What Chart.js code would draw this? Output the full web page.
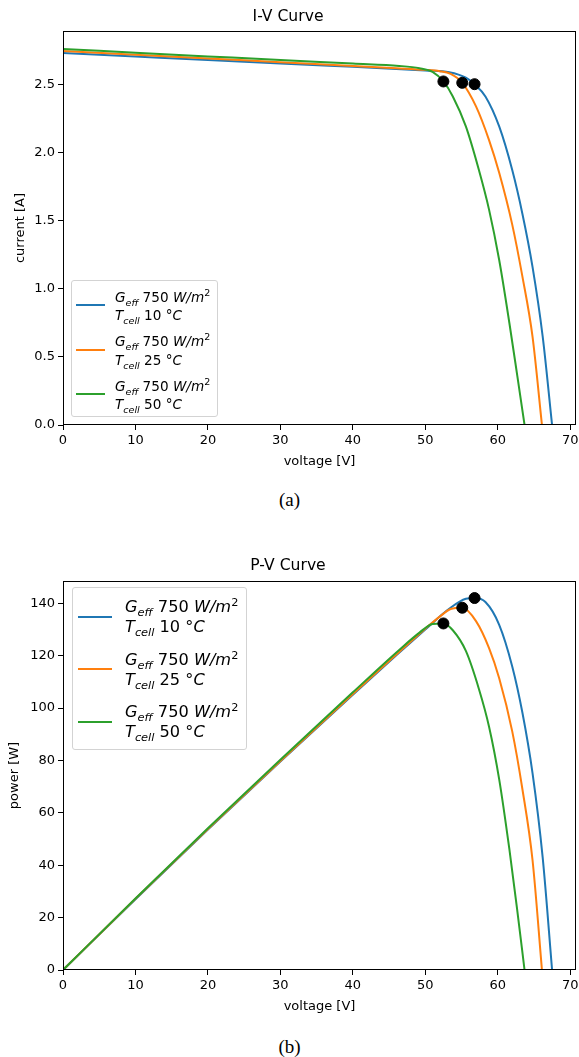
<!DOCTYPE html>
<html>
<head>
<meta charset="utf-8">
<title>I-V and P-V curves</title>
<script src="https://cdn.jsdelivr.net/npm/chart.js@4.4.1/dist/chart.umd.min.js"></script>
<style>
  body { margin: 0; background: #fff; width: 579px; height: 1057px; position: relative; overflow: hidden; }
  .panel { position: absolute; left: 0; }
  .caption { position: absolute; left: 0; width: 579px; text-align: center; line-height: 22px;
             font-family: 'Liberation Serif', 'DejaVu Serif', serif; font-size: 19px; color: #000; }
  .legend { position: absolute; box-sizing: border-box; background: rgba(255,255,255,0.8);
            border: 1px solid #d3d3d3; border-radius: 3px; font-family: 'DejaVu Sans', sans-serif; color: #000; }
  .legend .swatch { position: absolute; height: 2px; }
  .legend .txt { position: absolute; white-space: nowrap; }
  .legend sub, .legend sup { font-size: 70%; line-height: 0; }
</style>
</head>
<body>
<div class="panel" style="top:0"><canvas id="iv-chart" width="590" height="480"></canvas></div>
<div class="legend" id="iv-legend"></div>
<div class="caption" style="top:489px">(a)</div>

<div class="panel" style="top:550px"><canvas id="pv-chart" width="590" height="480"></canvas></div>
<div class="legend" id="pv-legend"></div>
<div class="caption" style="top:1036px">(b)</div>

<script>
// Module curves at 750 W/m2 for three cell temperatures

const irradiance = 750;
const cellTemps = [10, 25, 50];
const lineColors = ['#1f77b4', '#ff7f0e', '#2ca02c'];

// 10 °C
const voltage10 = [0, 10, 20, 30, 40, 46, 50, 53.3, 55.6, 56.8, 58.3, 60.2, 62.0, 63.4, 64.8, 66.2, 67.5];
const current10 = [2.728, 2.703, 2.678, 2.652, 2.627, 2.612, 2.600, 2.588, 2.548, 2.500, 2.41, 2.19, 1.87, 1.55, 1.16, 0.65, 0];
const power10 = [0, 27.0, 53.6, 79.6, 105.1, 120.2, 130.0, 137.9, 141.7, 142.0, 140.5, 131.8, 115.9, 98.3, 75.2, 43.0, 0];

// 25 °C
const voltage25 = [0, 10, 20, 30, 40, 46, 50, 52, 53.5, 55.1, 57.0, 58.8, 60.2, 62.0, 63.4, 64.8, 66.1];
const current25 = [2.743, 2.716, 2.689, 2.661, 2.634, 2.617, 2.605, 2.595, 2.575, 2.510, 2.337, 2.09, 1.85, 1.47, 1.09, 0.648, 0];
const power25 = [0, 27.2, 53.8, 79.8, 105.4, 120.4, 130.3, 134.9, 137.8, 138.3, 133.2, 122.9, 111.4, 91.1, 69.1, 42.0, 0];

// 50 °C
const voltage50 = [0, 10, 20, 30, 40, 46.4, 49.2, 51.0, 52.5, 53.8, 55.6, 57.4, 58.8, 60.2, 61.6, 62.7, 63.7];
const current50 = [2.758, 2.731, 2.704, 2.677, 2.651, 2.634, 2.617, 2.590, 2.520, 2.41, 2.19, 1.87, 1.58, 1.21, 0.75, 0.36, 0];
const power50 = [0, 27.3, 54.1, 80.3, 106.0, 122.2, 128.8, 132.1, 132.3, 129.7, 121.8, 107.3, 92.9, 72.8, 46.2, 22.6, 0];

// maximum power points (10, 25, 50 °C)
const mppVoltage = [56.8, 55.1, 52.5];
const mppCurrent = [2.500, 2.510, 2.520];
const mppPower = [142.0, 138.3, 132.3];

// ticks
const voltageTicks = [0, 10, 20, 30, 40, 50, 60, 70];
const currentTicks = [0, 0.5, 1.0, 1.5, 2.0, 2.5];
const powerTicks = [0, 20, 40, 60, 80, 100, 120, 140];

const voltages = [voltage10, voltage25, voltage50];
const currents = [current10, current25, current50];
const powers = [power10, power25, power50];

Chart.defaults.font.family = "'DejaVu Sans', sans-serif";
Chart.defaults.font.size = 13;
Chart.defaults.color = '#000';

// box around the plot area, like matplotlib spines
const frame = {
    id: 'frame',
    afterDatasetsDraw(chart) {
        const { ctx, chartArea: a } = chart;
        const l = Math.round(a.left) + 0.5, t = Math.round(a.top) + 0.5;
        const r = Math.round(a.right) - 0.5, b = Math.round(a.bottom) - 0.5;
        ctx.save();
        ctx.strokeStyle = '#000';
        ctx.lineWidth = 1;
        ctx.strokeRect(l, t, r - l, b - t);
        ctx.restore();
    }
};

function pairs(xs, ys) {
    return xs.map((x, i) => ({ x: x, y: ys[i] }));
}

function curveChart(id, cfg) {
    const datasets = [{
        data: pairs(mppVoltage, cfg.mpp),
        showLine: false,
        pointRadius: 5.5,
        pointBackgroundColor: '#000',
        pointBorderColor: '#000',
        order: 0
    }];
    cellTemps.forEach((t, i) => {
        datasets.push({
            label: 'Geff ' + irradiance + ' W/m2 Tcell ' + t + ' °C',
            data: pairs(voltages[i], cfg.values[i]),
            borderColor: lineColors[i],
            borderWidth: 2,
            pointRadius: 0,
            cubicInterpolationMode: 'monotone',
            fill: false,
            order: 3 - i
        });
    });

    const tickMarks = { display: true, drawOnChartArea: false, drawTicks: true, tickLength: 5, color: '#000', tickWidth: 1 };

    return new Chart(document.getElementById(id).getContext('2d'), {
        type: 'line',
        data: { datasets: datasets },
        plugins: [frame],
        options: {
            responsive: false,
            animation: false,
            // canvas is 590 wide, the page cuts it at 579; plot ends at x = 576
            layout: { padding: { left: 0, right: 14, top: 0, bottom: 0 } },
            plugins: {
                legend: { display: false },
                tooltip: { enabled: false },
                title: {
                    display: true,
                    text: cfg.title,
                    color: '#000',
                    font: { size: 15.6, weight: 'normal' },
                    padding: cfg.titlePad
                }
            },
            scales: {
                x: {
                    type: 'linear',
                    min: 0,
                    max: 70.8,
                    afterBuildTicks: s => { s.ticks = voltageTicks.map(v => ({ value: v })); },
                    afterFit: s => { s.height = cfg.xHeight; },
                    ticks: { autoSkip: false, maxRotation: 0, padding: 3, color: '#000' },
                    grid: tickMarks,
                    border: { display: false },
                    title: { display: true, text: 'voltage [V]', color: '#000', padding: { top: 0, bottom: cfg.xTitlePad } }
                },
                y: {
                    min: 0,
                    max: cfg.yMax,
                    afterBuildTicks: s => { s.ticks = cfg.ticks.map(v => ({ value: v })); },
                    afterFit: s => { s.width = 63; },
                    ticks: { autoSkip: false, padding: 3, color: '#000', callback: cfg.format },
                    grid: tickMarks,
                    border: { display: false },
                    title: { display: true, text: cfg.yLabel, color: '#000', padding: { top: cfg.yTitlePad, bottom: 0 } }
                }
            }
        }
    });
}

// HTML legend so the labels can carry sub- and superscripts
function buildLegend(id, box) {
    const el = document.getElementById(id);
    Object.assign(el.style, {
        left: box.left + 'px', top: box.top + 'px',
        width: box.width + 'px', height: box.height + 'px', fontSize: box.font + 'px'
    });
    const lh = Math.round(box.font * 1.3);
    cellTemps.forEach((t, i) => {
        const cy = box.first + i * box.step - 1;
        const sw = document.createElement('div');
        sw.className = 'swatch';
        sw.style.cssText = `left:${box.swatchX - box.left - 1}px;top:${cy - 1}px;width:${box.swatchW}px;background:${lineColors[i]}`;
        el.appendChild(sw);
        const lines = [
            `<i>G</i><sub><i>eff</i></sub> ${irradiance} <i>W/m</i><sup>2</sup>`,
            `<i>T</i><sub><i>cell</i></sub> ${t} <i>°C</i>`
        ];
        lines.forEach((html, k) => {
            const d = document.createElement('div');
            d.className = 'txt';
            d.innerHTML = html;
            d.style.cssText = `left:${box.textX - box.left - 1}px;top:${cy + box.offsets[k] - lh / 2}px;line-height:${lh}px`;
            el.appendChild(d);
        });
    });
}

// I-V chart
curveChart('iv-chart', {
    title: 'I-V Curve',
    titlePad: { top: 7.3, bottom: 5 },
    values: currents,
    mpp: mppCurrent,
    yMax: 2.89,
    ticks: currentTicks,
    format: v => v.toFixed(1),
    yLabel: 'current [A]',
    yTitlePad: 13,
    xHeight: 55,
    xTitlePad: 11
});

// P-V chart
curveChart('pv-chart', {
    title: 'P-V Curve',
    titlePad: { top: 6.5, bottom: 5.8 },
    values: powers,
    mpp: mppPower,
    yMax: 148.5,
    ticks: powerTicks,
    format: v => String(v),
    yLabel: 'power [W]',
    yTitlePad: 7,
    xHeight: 60,
    xTitlePad: 16
});

buildLegend('iv-legend', {
    left: 71, top: 280, width: 147, height: 137, font: 13.6,
    first: 25, step: 44.5, swatchX: 76, swatchW: 29, textX: 115, offsets: [-8.5, 10]
});
buildLegend('pv-legend', {
    left: 72, top: 587, width: 175, height: 163, font: 16.2,
    first: 29.7, step: 52.5, swatchX: 78, swatchW: 34, textX: 125, offsets: [-10, 10]
});
</script>
</body>
</html>
